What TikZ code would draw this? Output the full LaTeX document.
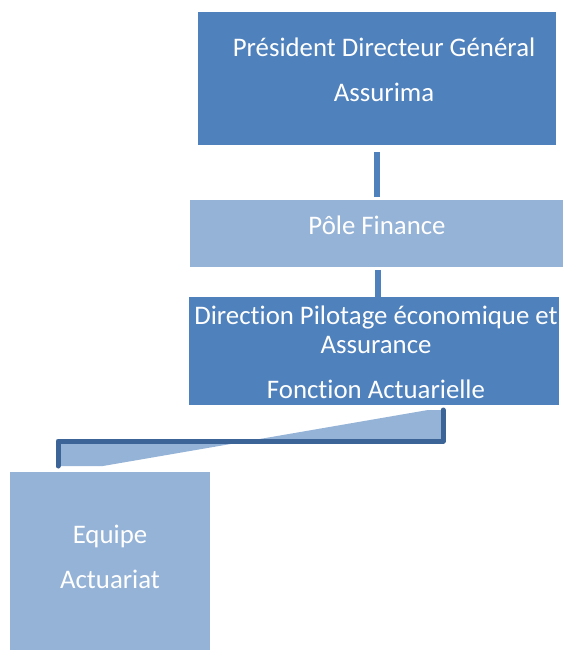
\documentclass[tikz,border=0pt]{standalone}
\usepackage{fontspec}
\setmainfont[RawFeature=-liga]{Carlito}
\definecolor{darkbox}{HTML}{4F81BD}
\definecolor{lightbox}{HTML}{95B3D7}
\definecolor{elbow}{HTML}{3C6496}
\tikzset{
  box/.style={inner sep=0pt, outer sep=0pt},
  txt/.style={text=white, font=\fontsize{26.8}{30}\selectfont, anchor=mid, inner sep=0pt},
  vbar/.style={draw=darkbox, line width=6pt},
  elbowline/.style={draw=elbow, line width=5pt, line join=round, line cap=round}
}
\begin{document}
\begin{tikzpicture}[x=1pt,y=-1pt]
\useasboundingbox (0,0) rectangle (564,650);
% boxes
\fill[darkbox] (198,12) rectangle (556,145);
\node[box] (pdg) at (377,78.5) {};
\fill[lightbox] (190,200) rectangle (563,267);
\node[box] (pole) at (376.5,233.5) {};
\fill[darkbox] (189,297) rectangle (559,405);
\node[box] (dir) at (374,351) {};
\fill[lightbox] (10,472) rectangle (210,650);
\node[box] (eq) at (110,561) {};
% texts
\node[txt] (t1) at (384,54) {Président Directeur Général};
\node[txt] (t2) at (384,99) {Assurima};
\node[txt] (t3) at (377,232) {Pôle Finance};
\node[txt] (t4) at (376,322) {Direction Pilotage économique et};
\node[txt] (t5) at (376,351) {Assurance};
\node[txt] (t6) at (376,396) {Fonction Actuarielle};
\node[txt] (t7) at (110,541) {Equipe};
\node[txt] (t8) at (110,586) {Actuariat};
% connectors
\coordinate (c1a) at (377,152);
\coordinate (c1b) at (377,197);
\draw[vbar] (c1a) -- (c1b);
\coordinate (c2a) at (378,270);
\coordinate (c2b) at (378,297);
\draw[vbar] (c2a) -- (c2b);
% wedge
\coordinate (w1) at (443,410);
\coordinate (w2) at (443,441);
\coordinate (w3) at (58,441);
\coordinate (w4) at (58,466);
\fill[lightbox] (58,441) -- (58,466) -- (103,466) -- (428,410) -- (443,410) -- (443,441) -- cycle;
\draw[elbowline] (w1) -- (w2) -- (w3) -- (w4);
\end{tikzpicture}
\end{document}
